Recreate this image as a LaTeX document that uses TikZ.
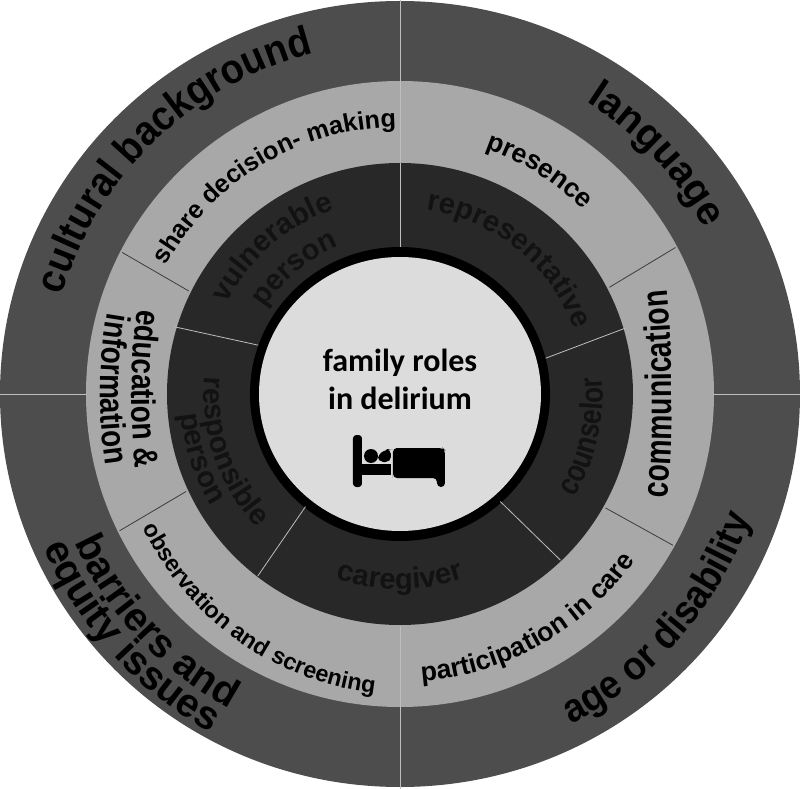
\documentclass[tikz,border=0pt]{standalone}
\usepackage{xcolor}
\usepackage{fontspec}
\usepackage{tikz}
\usetikzlibrary{decorations.text}
\setmainfont{Liberation Sans}
\newfontfamily\centerfont{Carlito}
\newfontfamily\narrowfont[FakeStretch=0.92]{Liberation Sans}
\newfontfamily\slimfont[FakeStretch=0.82]{Liberation Sans}
\newfontfamily\slimmerfont[FakeStretch=0.77]{Liberation Sans}
\definecolor{outerbg}{RGB}{77, 77, 77}
\definecolor{middlebg}{RGB}{168, 168, 168}
\definecolor{innerbg}{RGB}{40, 40, 40}
\definecolor{hubbg}{RGB}{220, 220, 220}
\definecolor{rolefg}{RGB}{18, 18, 18}
\definecolor{spokelight}{RGB}{190, 190, 190}
\definecolor{spokedark}{RGB}{60, 60, 60}
\tikzset{
    arctext/.style={decorate, decoration={text along path, text align=center, text={#1}}},
    spoke/.style={line width=0.6pt, color=spokelight},
    darkspoke/.style={line width=0.6pt, color=spokedark},
    bedpart/.style={fill=black, draw=none}
}
\newcommand{\outerlabel}{\narrowfont\fontsize{30}{30}\bfseries\selectfont}
\newcommand{\widelabel}{\fontsize{30}{30}\bfseries\selectfont}
\newcommand{\middlelabel}{\fontsize{19}{19}\bfseries\selectfont}
\newcommand{\slimlabel}{\slimfont\fontsize{25.5}{25.5}\bfseries\selectfont}
\newcommand{\rolelabel}{\fontsize{22}{22}\bfseries\color{rolefg}\selectfont}

\begin{document}
\begin{tikzpicture}[x=0.75pt, y=0.75pt]
    \useasboundingbox (-400,-395) rectangle (400,394);

    % Rings
    \fill [outerbg] (0,0) ellipse [x radius=400, y radius=393];
    \fill [middlebg] (0,0) ellipse [x radius=314, y radius=313];
    \fill [innerbg] (0,0) ellipse [x radius=233, y radius=231];
    \fill [black] (0,0) ellipse [x radius=150, y radius=147];
    \fill [hubbg] (0,0) ellipse [x radius=141, y radius=137];

    % Spokes: outer ring
    \foreach \a in {0,90,180,270} \draw [spoke] (\a:313) -- (\a:400);
    % Spokes: middle ring
    \draw [darkspoke] (153:312) -- (154:235);
    \draw [darkspoke] (28:312) -- (27:235);
    \draw [darkspoke] (206:312) -- (204.5:235);
    \draw [darkspoke] (-29:312) -- (-29:235);
    \foreach \a in {90,270} \draw [spoke] (\a:232) -- (\a:313);
    % Spokes: inner ring
    \draw [spoke] (90:147) -- (90:231);
    \draw [spoke] (161:150) -- (163.4:235);
    \draw [spoke] (13.8:150) -- (16.3:235);
    \draw [spoke] (-130:147) -- (-128:231);
    \draw [spoke] (-47:147) -- (-46:231);

    % Outer ring labels
    \path [arctext={|\narrowfont\fontsize{31}{31}\bfseries\selectfont|cultural background}] (184:352) arc [start angle=184, end angle=84, radius=352];
    \path [arctext={|\widelabel|language}] (93:347) arc [start angle=93, end angle=-7, radius=347];
    \path [arctext={|\outerlabel|age or disability}] (-91:372) arc [start angle=-91, end angle=9, radius=372];
    \path [arctext={|\widelabel|barriers and}] (173:358) arc [start angle=173, end angle=273, radius=358];
    \path [arctext={|\widelabel|equity issues}] (172:388) arc [start angle=172, end angle=272, radius=388];

    % Middle ring labels
    \path [arctext={|\middlelabel|share decision- making}] (171:267) arc [start angle=171, end angle=71, radius=267];
    \path [arctext={|\fontsize{20}{20}\bfseries\selectfont|presence}] (108:260) arc [start angle=108, end angle=8, radius=260];
    \path [arctext={|\slimmerfont\fontsize{27.5}{27.5}\bfseries\selectfont|communication}] (263,-150) .. controls (275,-50) and (275,50) .. (262,150);
    \path [arctext={|\fontsize{20}{20}\bfseries\selectfont|participation in care}] (-110.5:288) arc [start angle=-110.5, end angle=-10.5, radius=288];
    \path [shift={(8,-7)}, arctext={|\fontsize{17.5}{17.5}\bfseries\selectfont|observation and screening}] (184.5:294) arc [start angle=184.5, end angle=284.5, radius=294];
    \path [arctext={|\slimlabel|education {\&}}] (-255,130) .. controls (-272,50) and (-272,-40) .. (-258,-120);
    \path [arctext={|\slimlabel|information}] (-282,130) .. controls (-305,50) and (-305,-40) .. (-285,-120);

    % Inner ring labels
    \path [arctext={|\rolelabel|vulnerable}] (181:196) arc [start angle=181, end angle=81, radius=196];
    \path [arctext={|\rolelabel|person}] (180:160) arc [start angle=180, end angle=80, radius=160];
    \path [arctext={|\rolelabel|representative}] (101:186) arc [start angle=101, end angle=1, radius=186];
    \path [arctext={|\slimfont\fontsize{24}{24}\bfseries\color{rolefg}\selectfont|counselor}] (-63:203) arc [start angle=-63, end angle=37, radius=203];
    \path [arctext={|\rolelabel|caregiver}] (-140:195) arc [start angle=-140, end angle=-40, radius=195];
    \path [arctext={|\rolelabel|responsible}] (149:196) arc [start angle=149, end angle=249, radius=196];
    \path [arctext={|\rolelabel|person}] (148:220) arc [start angle=148, end angle=248, radius=220];

    % Hub text
    \node (hubtext) [align=center, font=\centerfont\fontsize{24}{28.5}\bfseries\selectfont] at (0,15) {family roles\\in delirium};

    % Bed icon
    \fill [bedpart, rounded corners=2.5] (-47,-93) rectangle (-38,-41);
    \fill [bedpart] (-38,-70) rectangle (-9,-81);
    \fill [bedpart] (-29,-62) circle [radius=7];
    \fill [bedpart, rounded corners=4] (-22,-68) -- (-22,-60) -- (-12,-55) -- (-9,-55) -- (-9,-68) -- cycle;
    \fill [bedpart, rounded corners=3] (-7,-80) -- (-7,-54) -- (43,-54) -- (45,-56) -- (45,-93) -- (37,-93) -- (37,-84) -- (-7,-84) -- cycle;

\end{tikzpicture}
\end{document}
